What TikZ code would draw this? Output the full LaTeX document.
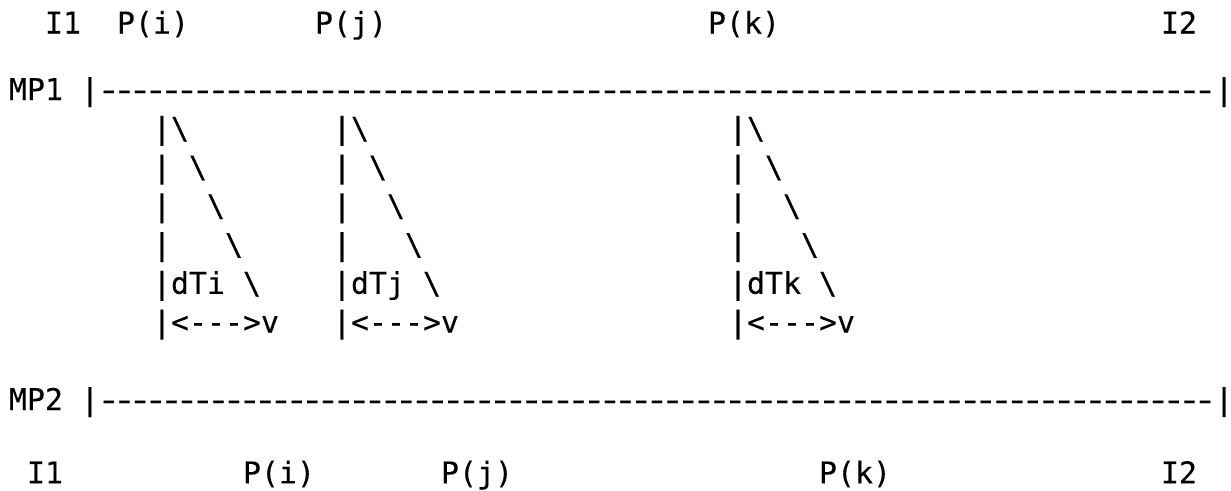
\documentclass[tikz,border=0pt]{standalone}
\usepackage{fontspec}
\newfontfamily\gridfont[FakeBold=0.2]{DejaVu Sans Mono}
\newcommand\dashrun{\foreach \q in {1,...,71}{\scalebox{1.35}[1]{-}\kern-8.64pt}}
\tikzset{
  tk/.style={inner sep=0pt, outer sep=0pt, anchor=base, font=\gridfont\fontsize{29.9}{29.9}\selectfont},
  dk/.style={tk}
}
\begin{document}
\begin{tikzpicture}[x=1pt,y=-1pt]
\useasboundingbox (0,0) rectangle (1231,490);
% top labels
\node[tk] (tI1) at (63,33.5) {I1};
\node[tk] (tPi) at (153,33.5) {P(i)};
\node[tk] (tPj) at (351,33.5) {P(j)};
\node[tk] (tPk) at (744,33.5) {P(k)};
\node[tk] (tI2) at (1179,33.5) {I2};
% MP1
\node[tk] (mp1) at (36,100) {MP1};
\node[tk] (mp1l) at (90,100) {|};
\node[dk] (mp1d) at (652.6,100) {\dashrun};
\node[tk] (mp1r) at (1224,100) {|};
% packets
\foreach \c/\l in {8/i,18/j,40/k}{
  \node[tk] (ra\l) at ({27+18*\c},138.75) {|\textbackslash};
  \node[tk] (rb\l) at ({18+18*\c},177.5) {|};
  \node[tk] (sb\l) at ({54+18*\c},177.5) {\textbackslash};
  \node[tk] (rc\l) at ({18+18*\c},216.25) {|};
  \node[tk] (sc\l) at ({72+18*\c},216.25) {\textbackslash};
  \node[tk] (rd\l) at ({18+18*\c},255) {|};
  \node[tk] (sd\l) at ({90+18*\c},255) {\textbackslash};
  \node[tk] (re\l) at ({45+18*\c},293.75) {|dT\l};
  \node[tk] (se\l) at ({108+18*\c},293.75) {\textbackslash};
  \node[tk] (rf\l) at ({72+18*\c},332.5) {|<-\kern0pt-\kern0pt->v};
}
% MP2
\node[tk] (mp2) at (36,410) {MP2};
\node[tk] (mp2l) at (90,410) {|};
\node[dk] (mp2d) at (652.6,410) {\dashrun};
\node[tk] (mp2r) at (1224,410) {|};
% bottom labels
\node[tk] (bI1) at (45,483.3) {I1};
\node[tk] (bPi) at (279,483.3) {P(i)};
\node[tk] (bPj) at (477,483.3) {P(j)};
\node[tk] (bPk) at (855,483.3) {P(k)};
\node[tk] (bI2) at (1179,483.3) {I2};
\end{tikzpicture}
\end{document}
